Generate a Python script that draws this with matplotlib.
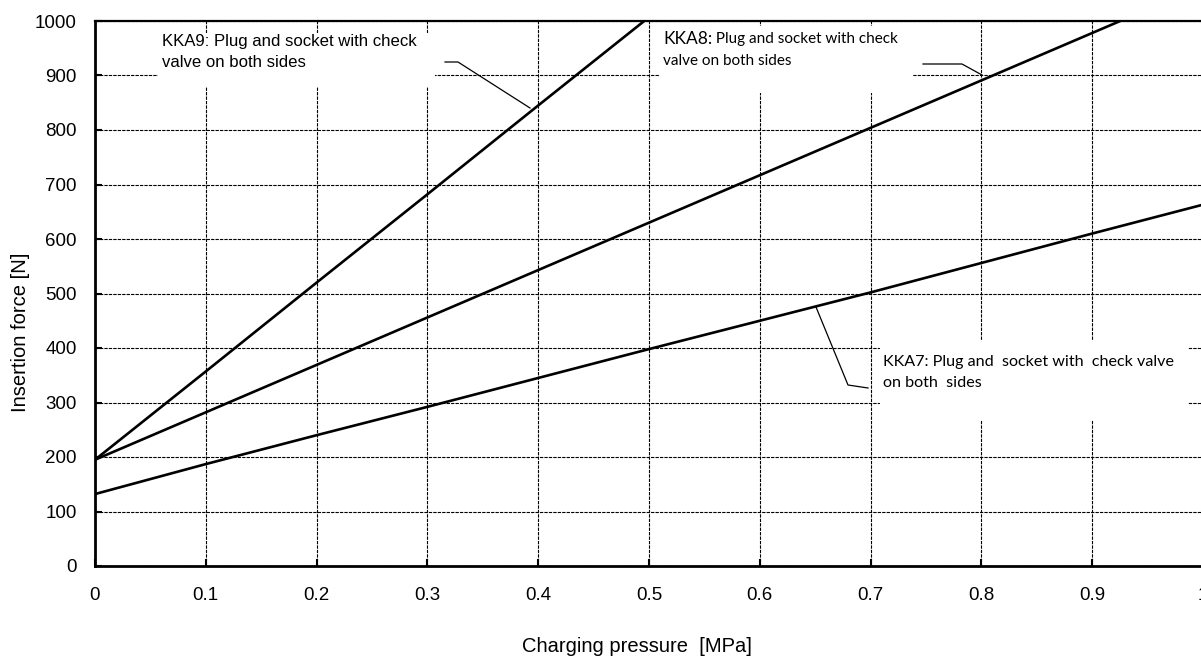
import matplotlib
matplotlib.use("Agg")
import matplotlib.pyplot as plt
from matplotlib.patches import Rectangle

# ---- data ----
pressure_kka7 = [0.0, 0.1, 0.2, 0.3, 0.4, 0.5, 0.6, 0.7, 0.8, 0.9, 1.0]
force_kka7 = [132, 187, 240, 292, 345, 398, 450, 502, 556, 610, 663]
pressure_kka8 = [0.0, 0.1, 0.2, 0.3, 0.4, 0.5, 0.6, 0.7, 0.8, 0.9, 1.0]
force_kka8 = [195, 282, 369, 456, 543, 630, 717, 804, 891, 978, 1065]
pressure_kka9 = [0.0, 0.1, 0.2, 0.3, 0.4, 0.5]
force_kka9 = [195, 357, 520, 682, 845, 1007]

x_ticks = [0, 0.1, 0.2, 0.3, 0.4, 0.5, 0.6, 0.7, 0.8, 0.9, 1.0]
x_tick_labels = ["0", "0.1", "0.2", "0.3", "0.4", "0.5", "0.6", "0.7", "0.8", "0.9", "1"]
y_ticks = [0, 100, 200, 300, 400, 500, 600, 700, 800, 900, 1000]
y_tick_labels = ["0", "100", "200", "300", "400", "500", "600", "700", "800", "900", "1000"]

x_label = "Charging pressure  [MPa]"
y_label = "Insertion force [N]"
label_kka9 = "KKA9: Plug and socket with check\nvalve on both sides"
label_kka8_head = "KKA8:"
label_kka8_rest = " Plug and socket with check"
label_kka8_line2 = "valve on both sides"
label_kka7 = "KKA7: Plug and  socket with  check valve\non both  sides"

ARIAL = "Liberation Sans"
CAL = "Lato"

fig = plt.figure(figsize=(12.01, 6.57), dpi=100)
W, H = 1201, 657
ax = fig.add_axes([95 / W, 1 - 566 / H, (1203 - 95) / W, (566 - 21) / H])
ax.set_xlim(0, 1.0)
ax.set_ylim(0, 1000)

ax.set_xticks(x_ticks)
ax.set_xticklabels(x_tick_labels, fontfamily=ARIAL, fontsize=13.5)
ax.set_yticks(y_ticks)
ax.set_yticklabels(y_tick_labels, fontfamily=ARIAL, fontsize=13.5)
ax.tick_params(axis="x", direction="in", length=5, width=1.5, pad=15)
ax.tick_params(axis="y", direction="in", length=5, width=1.5, pad=13)

ax.grid(True, color="black", linestyle=(0, (3, 1)), linewidth=0.8, zorder=1)
ax.set_axisbelow(True)

for s in ["left", "bottom"]:
    ax.spines[s].set_linewidth(2.0)
    ax.spines[s].set_color("black")
ax.spines["right"].set_visible(False)
ax.spines["top"].set_linestyle((0, (3, 1)))
ax.spines["top"].set_linewidth(1.6)

ax.set_xlabel(x_label, fontfamily=ARIAL, fontsize=14.5)
ax.xaxis.label.set_va("center")
ax.xaxis.set_label_coords((637 - 95) / 1108.0, (566 - 646) / 545.0)
ax.set_ylabel(y_label, fontfamily=ARIAL, fontsize=14.5)
ax.yaxis.label.set_va("center")
ax.yaxis.set_label_coords((21 - 95) / 1108.0, (566 - 332.5) / 545.0)


def px2data(px, py):
    return (px - 95) / 1108.0, (566 - py) * 1000.0 / 545.0


def white_box(x0, y0, x1, y1):
    a = px2data(x0, y1)
    b = px2data(x1, y0)
    ax.add_patch(Rectangle(a, b[0] - a[0], b[1] - a[1], facecolor="white",
                           edgecolor="none", zorder=2))


white_box(158, 33, 435, 87)
white_box(660, 26, 913, 93)
white_box(880, 340, 1188, 420)

ax.plot(pressure_kka7, force_kka7, color="black", lw=1.9, zorder=4, clip_on=True)
ax.plot(pressure_kka8, force_kka8, color="black", lw=1.9, zorder=4, clip_on=True)
ax.plot(pressure_kka9, force_kka9, color="black", lw=1.9, zorder=4, clip_on=True)


def leader(pts):
    d = [px2data(*p) for p in pts]
    ax.plot([p[0] for p in d], [p[1] for p in d], color="black", lw=0.9, zorder=5)


leader([(445, 62), (458, 62), (530, 108)])
leader([(923, 64), (962, 64), (982, 75)])
leader([(816, 307), (848, 385), (868, 388)])

# KKA9 text
tx, ty = px2data(162, 52)
ax.text(tx, ty, label_kka9, fontfamily=ARIAL, fontsize=12.1, va="center",
        ha="left", linespacing=1.42, zorder=6)

# KKA8 text (mixed sizes)
tx, ty = px2data(663, 39)
t1 = ax.text(tx, ty, label_kka8_head, fontfamily=CAL, fontsize=12.5, va="center",
             ha="left", zorder=6)
renderer = fig.canvas.get_renderer()
bb = t1.get_window_extent(renderer=renderer)
x_after = ax.transData.inverted().transform((bb.x1, bb.y0))[0]
ax.text(x_after, ty, label_kka8_rest, fontfamily=CAL, fontsize=11, va="center",
        ha="left", zorder=6)
tx2, ty2 = px2data(663, 61)
ax.text(tx2, ty2, label_kka8_line2, fontfamily=CAL, fontsize=11, va="center",
        ha="left", zorder=6)

# KKA7 text
tx, ty = px2data(883, 372.5)
ax.text(tx, ty, label_kka7, fontfamily=CAL, fontsize=11.6, va="center",
        ha="left", linespacing=1.6, zorder=6)

fig.savefig("out.png", dpi=100)
